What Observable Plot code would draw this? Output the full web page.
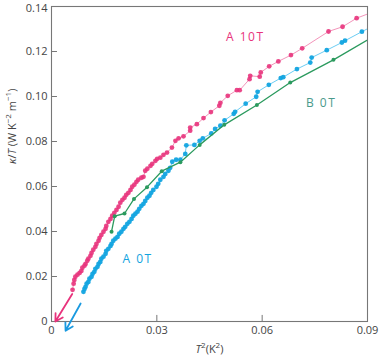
<!DOCTYPE html>
<html><head><meta charset="utf-8">
<script src="https://cdn.jsdelivr.net/npm/d3@7"></script>
<script src="https://cdn.jsdelivr.net/npm/@observablehq/plot@0.6"></script>
<style>body{margin:0;background:#fff}</style>
</head><body><div id="chart"></div>
<script>
// A 10T (pink)
const a10T2 = [0.0060,0.0063,0.0065,0.0068,0.0074,0.0080,0.0085,0.0088,0.0094,0.0097,0.0102,0.0105,0.0111,0.0114,0.0119,0.0125,0.0128,0.0134,0.0137,0.0142,0.0148,0.0154,0.0156,0.0162,0.0168,0.0173,0.0179,0.0185,0.0191,0.0196,0.0202,0.0208,0.0213,0.0219,0.0225,0.0230,0.0236,0.0242,0.0247,0.0256,0.0262,0.0267,0.0273,0.0282,0.0287,0.0296,0.0301,0.0310,0.0319,0.0329,0.0343,0.0353,0.0362,0.0376,0.0395,0.0395,0.0414,0.0433,0.0454,0.0478,0.0481,0.0502,0.0528,0.0536,0.0564,0.0566,0.0593,0.0596,0.0620,0.0646,0.0682,0.0714,0.0789,0.0829,0.0869,0.0921];
const a10K = [0.0141,0.0168,0.0185,0.0199,0.0208,0.0216,0.0225,0.0239,0.0248,0.0256,0.0270,0.0279,0.0292,0.0305,0.0319,0.0332,0.0345,0.0359,0.0372,0.0385,0.0399,0.0412,0.0425,0.0443,0.0456,0.0470,0.0483,0.0496,0.0510,0.0528,0.0541,0.0550,0.0563,0.0572,0.0585,0.0599,0.0608,0.0621,0.0630,0.0639,0.0643,0.0670,0.0679,0.0692,0.0701,0.0714,0.0723,0.0728,0.0741,0.0751,0.0773,0.0803,0.0814,0.0823,0.0848,0.0862,0.0877,0.0904,0.0931,0.0959,0.0972,0.1003,0.1028,0.1028,0.1077,0.1092,0.1088,0.1107,0.1134,0.1156,0.1184,0.1214,0.1289,0.1310,0.1348,0.1379];
// A 0T (blue)
const a0T2 = [0.0091,0.0094,0.0097,0.0100,0.0105,0.0108,0.0114,0.0117,0.0122,0.0125,0.0131,0.0134,0.0139,0.0142,0.0148,0.0154,0.0156,0.0162,0.0168,0.0171,0.0176,0.0182,0.0188,0.0193,0.0199,0.0205,0.0210,0.0216,0.0222,0.0228,0.0233,0.0239,0.0245,0.0250,0.0256,0.0262,0.0267,0.0273,0.0279,0.0284,0.0290,0.0299,0.0304,0.0310,0.0319,0.0324,0.0333,0.0338,0.0344,0.0355,0.0367,0.0381,0.0384,0.0407,0.0422,0.0431,0.0455,0.0466,0.0481,0.0493,0.0519,0.0523,0.0553,0.0583,0.0587,0.0619,0.0653,0.0660,0.0699,0.0737,0.0741,0.0784,0.0827,0.0836,0.0884,0.0916];
const a0K = [0.0132,0.0145,0.0154,0.0168,0.0176,0.0190,0.0199,0.0212,0.0221,0.0234,0.0243,0.0256,0.0265,0.0279,0.0288,0.0301,0.0314,0.0323,0.0336,0.0345,0.0359,0.0368,0.0376,0.0390,0.0399,0.0412,0.0421,0.0434,0.0443,0.0456,0.0470,0.0479,0.0488,0.0501,0.0514,0.0523,0.0536,0.0550,0.0559,0.0572,0.0585,0.0599,0.0612,0.0630,0.0643,0.0656,0.0670,0.0683,0.0710,0.0719,0.0719,0.0745,0.0783,0.0785,0.0803,0.0814,0.0836,0.0856,0.0870,0.0894,0.0923,0.0932,0.0968,0.0999,0.1021,0.1052,0.1082,0.1086,0.1122,0.1151,0.1173,0.1206,0.1240,0.1248,0.1288,0.1314];
// B 0T (green)
const b0T2 = [0.0171,0.0180,0.0208,0.0235,0.0272,0.0314,0.0367,0.0422,0.0492,0.0585,0.0680,0.0803,0.0921];
const b0K = [0.0399,0.0468,0.0480,0.0545,0.0597,0.0668,0.0708,0.0785,0.0874,0.0962,0.1062,0.1163,0.1270];
const xTicks = [0, 0.03, 0.06, 0.09];
const yTicks = [0, 0.02, 0.04, 0.06, 0.08, 0.10, 0.12, 0.14];
const seriesLabels = ["A 10T", "A 0T", "B 0T"];
const labelX = [0.0552, 0.0245, 0.0768];
const labelY = [0.1265, 0.0279, 0.0972];
const arrowX1 = [0.0059, 0.0083], arrowY1 = [0.0122, 0.0080];
const arrowX2 = [0.0011, 0.0040], arrowY2 = [0.0000, -0.0041];

const pink = "#e8337c", blue = "#12a4e0", green = "#2b9a5e";
const toRows = (xs, ys) => xs.map((x, i) => ({x, y: ys[i]}));
const pinkRows = toRows(a10T2, a10K), blueRows = toRows(a0T2, a0K), greenRows = toRows(b0T2, b0K);
const labels = seriesLabels.map((t, i) => ({t, x: labelX[i], y: labelY[i], c: [pink, blue, "#4a9a8c"][i]}));
const arrows = arrowX1.map((d, i) => ({x1: d, y1: arrowY1[i], x2: arrowX2[i], y2: arrowY2[i], c: [pink, "#1a9ae0"][i]}));
const fmt = d => d === 0 ? "0" : d.toFixed(2);
const topTick = yTicks[yTicks.length - 1];

const chart = Plot.plot({
  width: 382, height: 360,
  marginLeft: 51, marginRight: 15, marginTop: 6, marginBottom: 39,
  style: {fontFamily: "'Open Sans', sans-serif", fontSize: "11px", color: "#444", background: "#fff"},
  x: {domain: [0, 0.09]},
  y: {domain: [0, 0.14]},
  marks: [
    Plot.frame({stroke: "#777", strokeWidth: 1.1}),
    Plot.ruleY(yTicks, {y: d => d, x1: 0, x2: 0.0017, stroke: "#777"}),
    Plot.ruleX(xTicks, {x: d => d, y1: 0, y2: 0.0027, stroke: "#777"}),
    Plot.axisY({ticks: yTicks.slice(0, -1), tickSize: 0, tickPadding: 4, tickFormat: fmt, label: null, fill: "#444"}),
    Plot.axisY({ticks: [topTick], tickSize: 0, tickPadding: 4, tickFormat: fmt, label: null, fill: "#444", dy: 1.5}),
    Plot.axisX({ticks: xTicks, tickSize: 0, tickPadding: 5, tickFormat: fmt, label: null, fill: "#444"}),
    Plot.line(pinkRows, {x: "x", y: "y", stroke: "#f394ba", strokeWidth: 1, clip: true}),
    Plot.dot(pinkRows, {x: "x", y: "y", r: 2.4, fill: pink, fillOpacity: 0.9, clip: true}),
    Plot.line(blueRows, {x: "x", y: "y", stroke: "#6ccdf3", strokeWidth: 1, clip: true}),
    Plot.dot(blueRows, {x: "x", y: "y", r: 2.4, fill: blue, fillOpacity: 0.95, clip: true}),
    Plot.line(greenRows, {x: "x", y: "y", stroke: green, strokeWidth: 1.3, clip: true}),
    Plot.dot(greenRows, {x: "x", y: "y", r: 2, fill: green, clip: true}),
    Plot.arrow(arrows, {x1: "x1", y1: "y1", x2: "x2", y2: "y2", stroke: "c", strokeWidth: 1.8, headLength: 7}),
    Plot.text(labels, {x: "x", y: "y", text: "t", fill: "c", fontSize: 12, className: "serlab"}),
    Plot.text(["k"], {frameAnchor: "left", dx: -39, rotate: -90, text: d => "κ/T (W K−2 m−1)", fontSize: 11, fill: "#444", className: "ylab"}),
    Plot.text(["t"], {frameAnchor: "bottom", dy: 31, text: d => "T2(K2)", fontSize: 11, fill: "#444", className: "xlab"})
  ]
});
document.getElementById("chart").appendChild(chart);

// rich text for axis labels (italic symbols, superscripts)
const svg = d3.select(chart);
svg.selectAll(".serlab text").style("letter-spacing", "1.5px");
function rich(sel, parts) {
  const t = sel.select("text");
  t.text(null);
  for (const p of parts) {
    const ts = t.append("tspan").text(p.s);
    if (p.i) ts.style("font-style", "italic");
    if (p.sup) ts.attr("baseline-shift", "super").style("font-size", "8px");
  }
}
rich(svg.select(".ylab"), [{s: "κ", i: 1}, {s: "/"}, {s: "T", i: 1}, {s: " (W K"}, {s: "−2", sup: 1}, {s: " m"}, {s: "−1", sup: 1}, {s: ")"}]);
rich(svg.select(".xlab"), [{s: "T", i: 1}, {s: "2", sup: 1}, {s: "(K"}, {s: "2", sup: 1}, {s: ")"}]);
</script></body></html>
